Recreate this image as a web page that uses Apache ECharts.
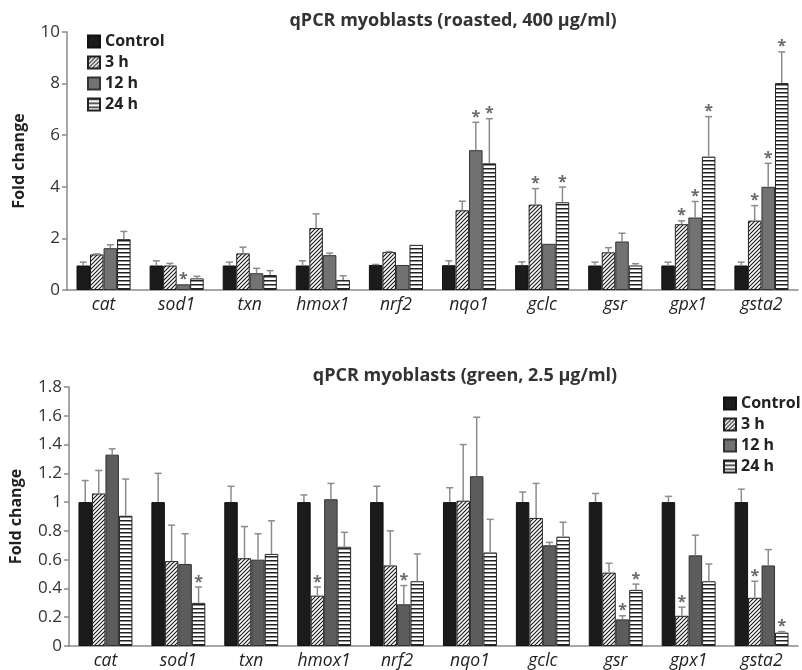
<!DOCTYPE html>
<html><head><meta charset="utf-8">
<script src="https://cdn.jsdelivr.net/npm/echarts@6/dist/echarts.min.js"></script>
<style>html,body{margin:0;padding:0;background:#fff}#c{width:802px;height:670px}</style>
</head><body><div id="c"></div>
<script>
const categories = ['cat','sod1','txn','hmox1','nrf2','nqo1','gclc','gsr','gpx1','gsta2'];
const seriesNames = ['Control','3 h','12 h','24 h'];
const yTicksTop = [0, 10, 2];
const yTicksBottom = [0, 1.8, 0.2];

// Top panel: roasted, 400 µg/ml
const roastedControl    = [0.95,0.95,0.95,0.95,0.97,0.96,0.96,0.95,0.95,0.95];
const roastedControlErr = [0.13,0.18,0.13,0.18,0.02,0.17,0.13,0.13,0.13,0.13];
const roasted3h     = [1.38,0.95,1.42,2.40,1.47,3.09,3.31,1.46,2.55,2.69];
const roasted3hErr  = [0.02,0.08,0.24,0.55,0.02,0.35,0.62,0.18,0.13,0.58];
const roasted12h    = [1.62,0.22,0.65,1.35,0.97,5.42,1.79,1.88,2.81,4.00];
const roasted12hErr = [0.13,0.00,0.19,0.08,0.00,1.08,0.00,0.32,0.62,0.91];
const roasted24h    = [1.97,0.45,0.58,0.39,1.75,4.91,3.40,0.95,5.17,8.02];
const roasted24hErr = [0.30,0.08,0.17,0.16,0.00,1.73,0.59,0.07,1.55,1.21];
const roastedSigControl = [0,0,0,0,0,0,0,0,0,0];
const roastedSig3h  = [0,0,0,0,0,0,1,0,1,1];
const roastedSig12h = [0,1,0,0,0,1,0,0,1,1];
const roastedSig24h = [0,0,0,0,0,1,1,0,1,1];

// Bottom panel: green, 2.5 µg/ml
const greenControl    = [1,1,1,1,1,1,1,1,1,1];
const greenControlErr = [0.15,0.20,0.11,0.05,0.11,0.10,0.07,0.06,0.04,0.09];
const green3h     = [1.06,0.59,0.61,0.35,0.56,1.01,0.89,0.51,0.21,0.335];
const green3hErr  = [0.16,0.25,0.22,0.06,0.24,0.39,0.24,0.065,0.06,0.115];
const green12h    = [1.33,0.57,0.60,1.02,0.29,1.18,0.70,0.185,0.63,0.56];
const green12hErr = [0.04,0.21,0.18,0.11,0.13,0.41,0.02,0.025,0.14,0.11];
const green24h    = [0.905,0.30,0.64,0.69,0.45,0.65,0.76,0.39,0.45,0.093];
const green24hErr = [0.255,0.11,0.23,0.10,0.19,0.23,0.10,0.04,0.12,0.007];
const greenSigControl = [0,0,0,0,0,0,0,0,0,0];
const greenSig3h  = [0,0,0,1,0,0,0,0,1,1];
const greenSig12h = [0,0,0,0,1,0,0,1,0,0];
const greenSig24h = [0,1,0,0,0,0,0,1,0,1];

function makeHatch(){
  const c=document.createElement('canvas'); c.width=4; c.height=4;
  const g=c.getContext('2d'); g.fillStyle='#fff'; g.fillRect(0,0,4,4);
  g.strokeStyle='#1e1e1e'; g.lineWidth=1.2;
  g.beginPath(); g.moveTo(-1,5); g.lineTo(5,-1); g.moveTo(-1,1); g.lineTo(1,-1); g.moveTo(3,5); g.lineTo(5,3); g.stroke();
  return c;
}
function makeStripes(){
  const c=document.createElement('canvas'); c.width=4; c.height=4;
  const g=c.getContext('2d'); g.fillStyle='#fff'; g.fillRect(0,0,4,4);
  g.fillStyle='#222'; g.fillRect(0,0,4,1.5);
  return c;
}
const hatch = {image: makeHatch(), repeat:'repeat'};
const stripes = {image: makeStripes(), repeat:'repeat'};

const FONT = 'Open Sans';
const GAP = 0.26;

function errRender(k){
  return function(params, api){
    const i=api.value(0), v=api.value(1), e=api.value(2), s=api.value(3);
    const band=api.size([1,0])[0];
    const bw=band*(1-GAP)/4;
    const off=(k-1.5)*bw;
    const p0=api.coord([i,v]), p1=api.coord([i,v+e]);
    const x=p0[0]+off;
    const ch=[];
    if(e>0){
      ch.push({type:'line',shape:{x1:x,y1:p0[1],x2:x,y2:p1[1]},style:{stroke:'#8c8c8c',lineWidth:1.5}});
      ch.push({type:'line',shape:{x1:x-3.5,y1:p1[1],x2:x+3.5,y2:p1[1]},style:{stroke:'#8c8c8c',lineWidth:1.5}});
    }
    if(s){
      ch.push({type:'text',style:{text:'*',x:x,y:p1[1]-5,align:'center',verticalAlign:'middle',fill:'#6a6a6a',font:'bold 16px "'+FONT+'"'}});
    }
    return {type:'group',children:ch};
  };
}

function panel(gi, vals, errs, sigs, grey){
  const styles=[
    {color:'#1b1b1b',borderColor:'#111',borderWidth:1},
    {color:hatch,borderColor:'#222',borderWidth:1},
    {color:grey,borderColor:'#333',borderWidth:1},
    {color:stripes,borderColor:'#222',borderWidth:1}
  ];
  const out=[];
  for(let k=0;k<4;k++){
    out.push({type:'bar',name:seriesNames[k],xAxisIndex:gi,yAxisIndex:gi,data:vals[k],
      barGap:'0%',barCategoryGap:(GAP*100)+'%',itemStyle:styles[k],emphasis:{disabled:true},z:2});
  }
  for(let k=0;k<4;k++){
    out.push({type:'custom',name:'err'+gi+'_'+k,xAxisIndex:gi,yAxisIndex:gi,z:5,
      renderItem:errRender(k),
      encode:{x:0,y:1},
      data:categories.map((c,i)=>[i,vals[k][i],errs[k][i],sigs[k][i]])});
  }
  return out;
}

function xAxis(gi){
  return {type:'category',gridIndex:gi,data:categories,
    axisLine:{lineStyle:{color:'#8a8a8a',width:1.5}},axisTick:{show:false},
    axisLabel:{fontFamily:FONT,fontStyle:'italic',fontSize:17.5,color:'#222',margin:6}};
}
function yAxis(gi,t){
  return {type:'value',gridIndex:gi,min:t[0],max:t[1],interval:t[2],
    splitLine:{show:false},
    axisLine:{show:true,lineStyle:{color:'#8a8a8a',width:1.5}},
    axisTick:{show:true,length:5,lineStyle:{color:'#8a8a8a',width:1.5}},
    axisLabel:{fontFamily:FONT,fontSize:17,color:'#333',margin:7},
    name:'Fold change',nameLocation:'middle',nameGap:gi===0?40:45,nameRotate:90,
    nameTextStyle:{fontFamily:FONT,fontWeight:'bold',fontSize:16,color:'#222'}};
}
function legend(left,top){
  return {orient:'vertical',left:left,top:top,data:seriesNames,itemWidth:12,itemHeight:12,itemGap:4,
    selectedMode:false,icon:'rect',
    textStyle:{fontFamily:FONT,fontWeight:'bold',fontSize:16,color:'#222',lineHeight:17}};
}

const chart=echarts.init(document.getElementById('c'));
chart.setOption({
  animation:false,
  backgroundColor:'#fff',
  title:[
    {text:'qPCR myoblasts (roasted, 400 μg/ml)',left:448,top:7,textAlign:'center',
     textStyle:{fontFamily:FONT,fontWeight:'bold',fontSize:18,color:'#333'}},
    {text:'qPCR myoblasts (green, 2.5 μg/ml)',left:460,top:362,textAlign:'center',
     textStyle:{fontFamily:FONT,fontWeight:'bold',fontSize:18,color:'#333'}}
  ],
  legend:[legend(82,28),legend(718,390)],
  grid:[
    {left:67,right:4,top:32,height:258},
    {left:69,right:4,top:387,height:260}
  ],
  xAxis:[xAxis(0),xAxis(1)],
  yAxis:[yAxis(0,yTicksTop),yAxis(1,yTicksBottom)],
  series:[].concat(
    panel(0,[roastedControl,roasted3h,roasted12h,roasted24h],
      [roastedControlErr,roasted3hErr,roasted12hErr,roasted24hErr],
      [roastedSigControl,roastedSig3h,roastedSig12h,roastedSig24h],'#727272'),
    panel(1,[greenControl,green3h,green12h,green24h],
      [greenControlErr,green3hErr,green12hErr,green24hErr],
      [greenSigControl,greenSig3h,greenSig12h,greenSig24h],'#5c5c5c')
  )
});
</script></body></html>
